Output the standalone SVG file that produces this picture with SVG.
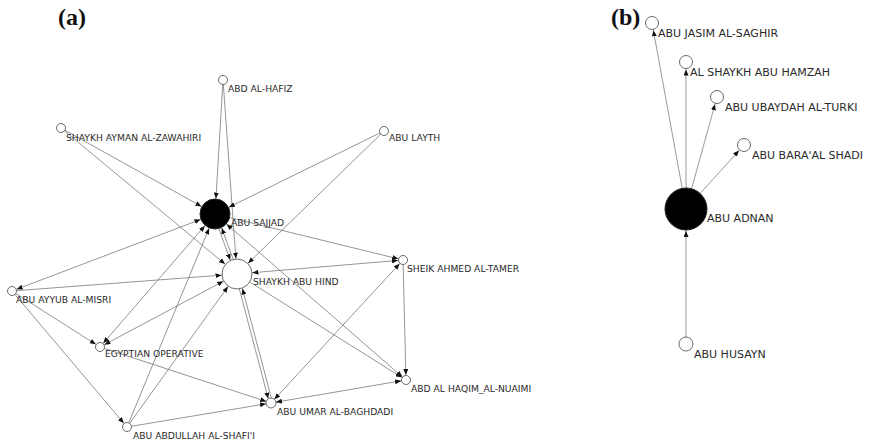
<svg xmlns="http://www.w3.org/2000/svg" width="870" height="442" viewBox="0 0 870 442">
<style>
.e line{stroke:#7a7a7a;stroke-width:0.8;fill:none}
.eb line{stroke:#9a9a9a;stroke-width:1;fill:none}
.n{fill:#fff;stroke:#6a6a6a;stroke-width:1}
.big{fill:#000;stroke:#222;stroke-width:1}
.lb{font-family:"DejaVu Sans",Verdana,sans-serif;font-size:9.2px;fill:#2a2a2a}
.lbb{font-family:"DejaVu Sans",Verdana,sans-serif;font-size:11px;fill:#2a2a2a}
.pl{font-family:"Liberation Serif","Times New Roman",serif;font-weight:bold;font-size:24px;fill:#111}
</style>
<defs>
<marker id="aS" viewBox="0 0 6 5" markerWidth="6" markerHeight="5" refX="11" refY="2.5" orient="auto-start-reverse" markerUnits="userSpaceOnUse"><path d="M0,0 L6,2.5 L0,5 z" fill="#111"/></marker>
<marker id="aB" viewBox="0 0 6 5" markerWidth="6" markerHeight="5" refX="21.5" refY="2.5" orient="auto-start-reverse" markerUnits="userSpaceOnUse"><path d="M0,0 L6,2.5 L0,5 z" fill="#111"/></marker>
<marker id="bS" viewBox="0 0 6 5" markerWidth="6" markerHeight="5" refX="13.5" refY="2.5" orient="auto-start-reverse" markerUnits="userSpaceOnUse"><path d="M0,0 L6,2.5 L0,5 z" fill="#111"/></marker>
<marker id="bB" viewBox="0 0 6 5" markerWidth="6" markerHeight="5" refX="28" refY="2.5" orient="auto-start-reverse" markerUnits="userSpaceOnUse"><path d="M0,0 L6,2.5 L0,5 z" fill="#111"/></marker>
</defs>
<rect width="870" height="442" fill="#fff"/>
<text class="pl" x="58" y="25">(a)</text>
<text class="pl" x="611" y="25">(b)</text>
<g id="connectors" class="e">
<line x1="223" y1="80" x2="215" y2="214" marker-end="url(#aB)"/>
<line x1="223" y1="80" x2="237" y2="274" marker-end="url(#aB)"/>
<line x1="61" y1="128" x2="215" y2="214" marker-end="url(#aB)"/>
<line x1="61" y1="128" x2="237" y2="274" marker-end="url(#aB)"/>
<line x1="384" y1="131" x2="215" y2="214" marker-end="url(#aB)"/>
<line x1="384" y1="131" x2="237" y2="274" marker-end="url(#aB)"/>
<line x1="215" y1="214" x2="403" y2="260" marker-end="url(#aS)"/>
<line x1="403" y1="260" x2="237" y2="274" marker-start="url(#aS)" marker-end="url(#aB)"/>
<line x1="403" y1="260" x2="406" y2="380" marker-end="url(#aS)"/>
<line x1="271" y1="403" x2="403" y2="260" marker-start="url(#aS)" marker-end="url(#aS)"/>
<line x1="215" y1="214" x2="406" y2="380" marker-start="url(#aB)" marker-end="url(#aS)"/>
<line x1="237" y1="274" x2="406" y2="380" marker-end="url(#aS)"/>
<line x1="271" y1="403" x2="406" y2="380" marker-start="url(#aS)" marker-end="url(#aS)"/>
<line x1="213.6" y1="214.5" x2="235.6" y2="274.5" marker-end="url(#aB)"/>
<line x1="238.4" y1="273.5" x2="216.4" y2="213.5" marker-end="url(#aB)"/>
<line x1="235.5" y1="274.4" x2="269.5" y2="403.4" marker-end="url(#aS)"/>
<line x1="272.5" y1="402.6" x2="238.5" y2="273.6" marker-end="url(#aB)"/>
<line x1="12" y1="291" x2="215" y2="214" marker-start="url(#aS)" marker-end="url(#aB)"/>
<line x1="12" y1="291" x2="237" y2="274" marker-end="url(#aB)"/>
<line x1="12" y1="291" x2="100" y2="347" marker-end="url(#aS)"/>
<line x1="12" y1="291" x2="127" y2="427" marker-end="url(#aS)"/>
<line x1="100" y1="347" x2="215" y2="214" marker-start="url(#aS)" marker-end="url(#aB)"/>
<line x1="100" y1="347" x2="237" y2="274" marker-start="url(#aS)" marker-end="url(#aB)"/>
<line x1="100" y1="347" x2="271" y2="403" marker-end="url(#aS)"/>
<line x1="127" y1="427" x2="215" y2="214" marker-end="url(#aB)"/>
<line x1="127" y1="427" x2="237" y2="274" marker-end="url(#aB)"/>
<line x1="127" y1="427" x2="271" y2="403" marker-end="url(#aS)"/>
</g>
<g id="connectors-b" class="eb">
<line x1="686" y1="209" x2="652" y2="23" marker-end="url(#bS)"/>
<line x1="686" y1="209" x2="686" y2="62" marker-end="url(#bS)"/>
<line x1="686" y1="209" x2="717" y2="97" marker-end="url(#bS)"/>
<line x1="686" y1="209" x2="744" y2="145" marker-end="url(#bS)"/>
<line x1="686" y1="344" x2="686" y2="209" marker-end="url(#bB)"/>
</g>
<g id="abd-al-hafiz"><circle class="n" cx="223" cy="80" r="4.5"/><text class="lb" x="228" y="91.5">ABD AL-HAFIZ</text></g>
<g id="shaykh-ayman-al-zawahiri"><circle class="n" cx="61" cy="128" r="4.5"/><text class="lb" x="66" y="140.5">SHAYKH AYMAN AL-ZAWAHIRI</text></g>
<g id="abu-layth"><circle class="n" cx="384" cy="131" r="4.5"/><text class="lb" x="389" y="141">ABU LAYTH</text></g>
<g id="abu-sajjad"><circle class="big" cx="215" cy="214" r="15"/><text class="lb" x="231" y="226">ABU SAJJAD</text></g>
<g id="shaykh-abu-hind"><circle class="n" cx="237" cy="274" r="15"/><text class="lb" x="253" y="284.5">SHAYKH ABU HIND</text></g>
<g id="sheik-ahmed-al-tamer"><circle class="n" cx="403" cy="260" r="4.5"/><text class="lb" x="407" y="271.5">SHEIK AHMED AL-TAMER</text></g>
<g id="abu-ayyub-al-misri"><circle class="n" cx="12" cy="291" r="4.5"/><text class="lb" x="16" y="302.7">ABU AYYUB AL-MISRI</text></g>
<g id="egyptian-operative"><circle class="n" cx="100" cy="347" r="4.5"/><text class="lb" x="105" y="356.7">EGYPTIAN OPERATIVE</text></g>
<g id="abd-al-haqim-al-nuaimi"><circle class="n" cx="406" cy="380" r="4.5"/><text class="lb" x="411" y="392">ABD AL HAQIM_AL-NUAIMI</text></g>
<g id="abu-umar-al-baghdadi"><circle class="n" cx="271" cy="403" r="5"/><text class="lb" x="277" y="415">ABU UMAR AL-BAGHDADI</text></g>
<g id="abu-abdullah-al-shafii"><circle class="n" cx="127" cy="427" r="4.5"/><text class="lb" x="133" y="438.5">ABU ABDULLAH AL-SHAFI'I</text></g>
<g id="abu-jasim-al-saghir"><circle class="n" cx="652" cy="23" r="6.5"/><text class="lbb" x="658" y="37.3">ABU JASIM AL-SAGHIR</text></g>
<g id="al-shaykh-abu-hamzah"><circle class="n" cx="686" cy="62" r="6.5"/><text class="lbb" x="690" y="76.3">AL SHAYKH ABU HAMZAH</text></g>
<g id="abu-ubaydah-al-turki"><circle class="n" cx="717" cy="97" r="6.5"/><text class="lbb" x="725" y="111.3">ABU UBAYDAH AL-TURKI</text></g>
<g id="abu-bara-al-shadi"><circle class="n" cx="744" cy="145" r="6.5"/><text class="lbb" x="752" y="159">ABU BARA'AL SHADI</text></g>
<g id="abu-adnan"><circle class="big" cx="686" cy="209" r="21"/><text class="lbb" x="707" y="222.3">ABU ADNAN</text></g>
<g id="abu-husayn"><circle class="n" cx="686" cy="344" r="7"/><text class="lbb" x="694" y="358">ABU HUSAYN</text></g>
</svg>
